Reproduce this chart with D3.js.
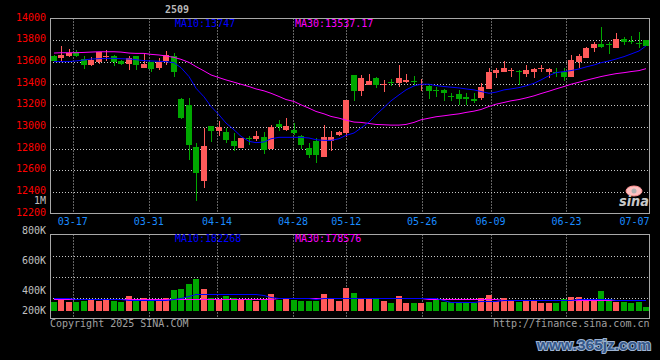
<!DOCTYPE html>
<html><head><meta charset="utf-8">
<script src="https://cdn.jsdelivr.net/npm/d3@7"></script>
<style>html,body{margin:0;padding:0;background:#000;} svg{display:block}</style>
</head><body><svg id="c" width="660" height="360"></svg>
<script>
// ---------- data ----------
const dates = ["03-12","03-13","03-14","03-17","03-18","03-19","03-20","03-21","03-24","03-25","03-26","03-27","03-28","03-31",
"04-01","04-02","04-03","04-07","04-08","04-09","04-10","04-11","04-14","04-15","04-16","04-17","04-18","04-21","04-22","04-23","04-24","04-25","04-28","04-29","04-30",
"05-06","05-07","05-08","05-09","05-12","05-13","05-14","05-15","05-16","05-19","05-20","05-21","05-22","05-23","05-26","05-27","05-28","05-29","05-30",
"06-03","06-04","06-05","06-06","06-09","06-10","06-11","06-12","06-13","06-16","06-17","06-18","06-19","06-20","06-23","06-24","06-25","06-26","06-27","06-30",
"07-01","07-02","07-03","07-04","07-07","07-08"];
const open  = [13654,13632,13657,13687,13623,13571,13602,13641,13657,13605,13580,13651,13540,13595,13540,13611,13655,13255,13200,12814,
12497,13010,12964,12949,12866,12805,12897,12887,12906,12795,13025,12973,12973,12912,12805,12866,12722,12866,12921,12943,
13476,13332,13387,13448,13387,13418,13402,13412,13424,13387,13378,13344,13341,13286,13301,13277,13261,13264,13347,13494,
13510,13522,13516,13485,13503,13540,13510,13510,13503,13457,13602,13632,13724,13761,13761,13730,13810,13791,13770,13798];
const high  = [13663,13743,13715,13709,13657,13648,13693,13706,13663,13620,13657,13657,13672,13595,13632,13700,13680,13264,13262,12853,
12990,13010,13056,12989,12943,12897,12912,12958,12949,13019,13065,13080,13031,12927,12851,12897,13019,12958,12958,13249,
13480,13479,13485,13457,13433,13442,13571,13488,13473,13439,13393,13372,13350,13310,13341,13310,13310,13402,13546,13546,
13608,13546,13525,13571,13546,13571,13546,13546,13540,13663,13669,13739,13779,13926,13785,13862,13831,13840,13877,13798];
const low   = [13602,13598,13648,13648,13531,13562,13580,13608,13562,13571,13525,13525,13540,13510,13525,13571,13460,13071,12690,12311,
12440,12860,12912,12851,12780,12805,12835,12866,12749,12795,12958,12958,12927,12798,12713,12667,12722,12780,12912,12903,
13240,13286,13387,13356,13326,13378,13366,13402,13378,13332,13258,13274,13234,13240,13203,13197,13218,13249,13347,13448,
13503,13457,13387,13464,13454,13510,13454,13464,13424,13457,13546,13632,13687,13724,13669,13724,13755,13761,13730,13743];
const close = [13608,13660,13684,13654,13571,13620,13690,13651,13598,13580,13635,13571,13577,13534,13595,13663,13506,13080,12835,12578,
12824,12964,13001,12881,12826,12897,12890,12918,12789,13001,12995,13004,12943,12835,12743,12743,12906,12906,12952,13249,
13332,13448,13424,13387,13396,13412,13448,13433,13418,13393,13332,13338,13313,13280,13258,13261,13240,13366,13510,13525,
13540,13528,13510,13525,13531,13546,13534,13503,13457,13617,13654,13730,13767,13736,13755,13807,13785,13785,13764,13743];
const ma10  = [13602,13602,13602,13608,13617,13626,13629,13632,13632,13629,13626,13620,13611,13608,13605,13602,13592,13546,13464,13356,
13277,13188,13111,13035,12973,12912,12866,12854,12860,12890,12903,12903,12903,12903,12897,12881,12875,12875,12890,12921,
12943,12989,13044,13111,13179,13240,13295,13341,13378,13393,13393,13381,13372,13366,13359,13350,13341,13326,13310,13320,
13341,13350,13362,13378,13402,13433,13473,13500,13510,13519,13534,13553,13571,13592,13608,13626,13648,13672,13700,13747];
const ma30  = [13681,13684,13684,13684,13687,13690,13693,13693,13693,13690,13681,13678,13678,13669,13663,13654,13641,13623,13595,13556,
13516,13479,13454,13433,13412,13393,13372,13350,13332,13310,13280,13252,13234,13203,13172,13142,13120,13096,13080,13062,
13044,13041,13031,13022,13019,13016,13016,13022,13041,13065,13080,13093,13102,13111,13120,13133,13145,13160,13188,13209,
13225,13240,13252,13267,13286,13307,13329,13350,13372,13393,13412,13430,13448,13464,13479,13491,13500,13510,13519,13537];
const volume = [150,177,145,150,161,177,161,177,161,150,242,177,215,177,161,215,333,349,429,510,
349,215,188,242,215,188,177,161,177,268,177,188,177,161,161,161,268,188,161,365,
284,204,204,204,161,123,242,123,134,123,150,177,150,150,150,140,123,215,252,161,
215,177,150,161,161,123,123,123,188,231,231,161,161,322,188,150,140,123,150,70];
const volMa10 = [215,215,215,193,193,193,193,193,193,193,182,182,182,182,182,182,188,215,242,268,
279,279,279,279,279,279,279,268,258,231,215,204,204,204,204,193,204,204,204,204,
215,215,215,215,215,215,215,204,204,204,204,204,177,150,150,150,150,161,161,161,
177,177,177,177,177,177,177,177,177,177,188,188,188,188,188,182,182,182,182,182];
const volMa30 = [198,198,198,198,198,198,198,198,198,198,198,198,198,198,198,198,200,200,200,200,
200,200,200,200,200,200,200,200,200,200,205,205,205,205,205,205,205,205,205,205,
205,205,205,205,205,205,205,205,205,205,195,195,195,195,195,195,195,195,195,195,
180,180,180,180,180,180,180,180,180,180,180,180,180,180,180,180,180,180,179,179];
const priceTicks = [14000,13800,13600,13400,13200,13000,12800,12600,12400,12200];
const dateTicks = ["03-17","03-31","04-14","04-28","05-12","05-26","06-09","06-23","07-07"];
const volTicks = [1000000,800000,600000,400000,200000];
const volTickLabels = ["1M","800K","600K","400K","200K"];
const title = "2509";
const maLabels = ["MA10:13747","MA30:13537.17"];
const volMaLabels = ["MA10:182268","MA30:178576"];

// ---------- drawing ----------
const svg = d3.select("#c");
svg.append("rect").attr("width",660).attr("height",360).attr("fill","#000");
const MONO = "'DejaVu Sans Mono', 'Liberation Mono', monospace";
const RED = "#ff5a5a", GREEN = "#00a800", GRID = "#c8c8c8", BORDER = "#a8a8a8";

const L = 50, R = 650;
const P = {top:18.5, bottom:213.5};
const V = {top:234.5, bottom:318.5, base:311};

const xBand = d3.scaleBand().domain(dates).range([L, R]);
const xGrid = d3.scalePoint().domain(dates).range([L, R]);
const yP = d3.scaleLinear().domain([12200, 14000]).range([P.bottom, P.top]);
const yV = d3.scaleLinear().domain([0, 1000000]).range([V.base, V.base - 62.1]);
const yVLab = d3.scaleLinear().domain([0, 1000000]).range([354.3, 204.3]);

const bodyX = d => Math.round(xBand(d) + xBand.bandwidth()/2 - 3);
const cx = d => bodyX(d) + 3;

// grid
const gP = svg.append("g");
priceTicks.filter(v => v > 12200 && v < 14000).forEach(v => {
  const y = Math.round(yP(v)) + 0.5;
  gP.append("line").attr("x1",L).attr("x2",R).attr("y1",y).attr("y2",y)
    .attr("stroke",GRID).attr("stroke-dasharray","1,2");
});
[0.25,0.5,0.75].forEach(f => {
  const y = Math.round(V.top + (V.bottom - V.top)*f) + 0.5;
  gP.append("line").attr("x1",L).attr("x2",R).attr("y1",y).attr("y2",y)
    .attr("stroke",GRID).attr("stroke-dasharray","1,2");
});
dateTicks.forEach(d => {
  const x = Math.round(xGrid(d)) + 0.5;
  if (x > R - 10) return;
  [[P.top,P.bottom],[V.top,V.bottom]].forEach(([a,b]) => {
    gP.append("line").attr("x1",x).attr("x2",x).attr("y1",a).attr("y2",b)
      .attr("stroke",GRID).attr("stroke-dasharray","1,2");
  });
});

// borders
svg.append("rect").attr("x",L+0.5).attr("y",P.top).attr("width",R-L-1).attr("height",P.bottom-P.top)
  .attr("fill","none").attr("stroke",BORDER);
svg.append("rect").attr("x",L+0.5).attr("y",V.top).attr("width",R-L-1).attr("height",V.bottom-V.top)
  .attr("fill","none").attr("stroke",BORDER);

// volume bars
const gV = svg.append("g").attr("shape-rendering","crispEdges");
dates.forEach((d,i) => {
  const col = close[i] >= open[i] ? RED : GREEN;
  const y = Math.round(yV(volume[i]*1000));
  gV.append("rect").attr("x",bodyX(d)).attr("y",y).attr("width",6).attr("height",V.base - y).attr("fill",col);
});
const vline = arr => d3.line().x((d,i)=>cx(dates[i])).y(d=>Math.round(yV(d*1000))+0.5)(arr);
svg.append("path").attr("d",vline(volMa30)).attr("fill","none").attr("stroke","#ff00ff").attr("stroke-width",1);
svg.append("path").attr("d",vline(volMa10)).attr("fill","none").attr("stroke","#0000ff").attr("stroke-width",1);

// candles
const gC = svg.append("g").attr("shape-rendering","crispEdges");
dates.forEach((d,i) => {
  const col = close[i] >= open[i] ? RED : GREEN;
  const x = bodyX(d);
  const yH = Math.round(yP(high[i])), yL = Math.round(yP(low[i]));
  gC.append("rect").attr("x",x+3).attr("y",yH).attr("width",1).attr("height",Math.max(1,yL-yH)).attr("fill",col);
  const yO = Math.round(yP(open[i])), yC = Math.round(yP(close[i]));
  const top = Math.min(yO,yC), h = Math.max(1, Math.abs(yO-yC));
  gC.append("rect").attr("x",x).attr("y",top).attr("width",6).attr("height",h).attr("fill",col);
});

// price MA lines
const pline = arr => d3.line().x((d,i)=>cx(dates[i])).y(d=>yP(d))(arr);
svg.append("path").attr("d",pline(ma30)).attr("fill","none").attr("stroke","#ff00ff").attr("stroke-width",1);
svg.append("path").attr("d",pline(ma10)).attr("fill","none").attr("stroke","#0000ff").attr("stroke-width",1);

// axis labels
const txt = (x,y,s,col,anchor) => svg.append("text").attr("x",x).attr("y",y).text(s)
  .attr("fill",col).attr("font-family",MONO).attr("font-size",10).attr("text-anchor",anchor||"start");
priceTicks.forEach(v => txt(46, Math.round(yP(v)) + 2, String(v), "#ff0000", "end"));
volTicks.forEach((v,i) => txt(46, Math.min(314, yVLab(v)), volTickLabels[i], "#c0c0c0", "end"));
dateTicks.forEach(d => {
  const x = xGrid(d);
  if (x + 15 > R) txt(R - 0.5, 224.5, d, "#1a8cff", "end");
  else txt(x, 224.5, d, "#1a8cff", "middle");
});

// header texts
txt(165, 13.3, title, "#b8b8b8").attr("font-weight","bold");
txt(175, 26.5, maLabels[0], "#0000ff");
txt(295, 26.5, maLabels[1], "#ff00ff");
txt(175, 241.5, volMaLabels[0], "#0000ff");
txt(295, 241.5, volMaLabels[1], "#ff00ff");
txt(50, 326.5, "Copyright 2025 SINA.COM", "#a0a0a0");
txt(649.5, 326.5, "http://finance.sina.com.cn", "#a0a0a0", "end");

// sina logo
svg.append("ellipse").attr("cx",634).attr("cy",191).attr("rx",8).attr("ry",5).attr("fill","#ffc0c0").attr("stroke","#ff9090");
svg.append("circle").attr("cx",634).attr("cy",191).attr("r",2.5).attr("fill","#b0b0b0");
svg.append("text").attr("x",619).attr("y",206).text("sina").attr("fill","#c8c8c8")
  .attr("font-family","'DejaVu Sans', sans-serif").attr("font-size",14).attr("font-weight","bold").attr("font-style","italic")
  .attr("textLength",30).attr("lengthAdjust","spacingAndGlyphs");

// watermark
svg.append("text").attr("x",537).attr("y",350).text("www.365jz.com")
  .attr("font-family","'Liberation Sans', Arial, sans-serif").attr("font-size",15.5).attr("font-weight","bold")
  .attr("fill","#34588a").attr("stroke","#9db3d3").attr("stroke-width",2).attr("paint-order","stroke");
</script></body></html>
